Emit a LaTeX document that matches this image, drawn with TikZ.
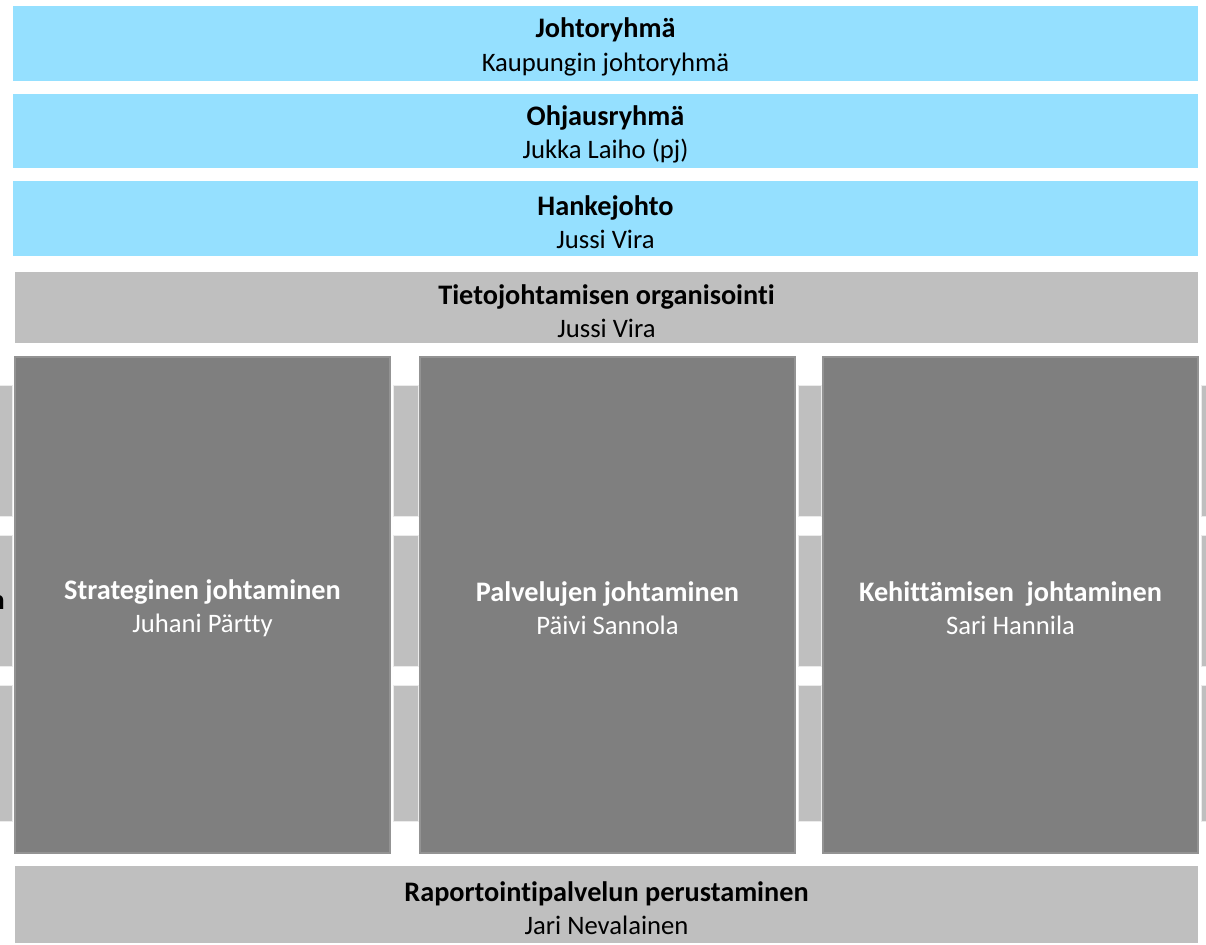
\documentclass[tikz,border=0pt]{standalone}
\usepackage{fontspec}
\setmainfont[Ligatures={NoCommon}]{Carlito}
\definecolor{lblue}{HTML}{95E0FF}
\definecolor{lgray}{HTML}{BFBFBF}
\definecolor{dgray}{HTML}{7F7F7F}
\newcommand{\ttl}[1]{{\fontsize{21.2}{25}\selectfont\bfseries #1}}
\tikzset{
  box/.style={inner sep=0pt, outer sep=0pt, anchor=north west},
  bluebox/.style={box, fill=lblue},
  graybox/.style={box, fill=lgray},
  colbox/.style={box, fill=dgray, draw=gray!85, line width=0.8pt},
  sidebox/.style={box, fill=lgray, draw=white!92!black, line width=0.6pt},
  lbl/.style={align=center, font=\fontsize{20}{25}\selectfont, text=black, yshift=-2.6pt},
  lblw/.style={lbl, text=white},
}
\begin{document}
\begin{tikzpicture}[x=0.75pt,y=-0.75pt]
\useasboundingbox (0,0) rectangle (1206,945);
\clip (0,0) rectangle (1206,945);
% top blue boxes
\node[bluebox, minimum width=1185*0.75pt, minimum height=75*0.75pt] (b1) at (13,6) {};
\node[bluebox, minimum width=1185*0.75pt, minimum height=74*0.75pt] (b2) at (13,94) {};
\node[bluebox, minimum width=1185*0.75pt, minimum height=75*0.75pt] (b3) at (13,181) {};
\node[lbl] (t1) at (b1.center) {\ttl{Johtoryhmä}\\Kaupungin johtoryhmä};
\node[lbl] (t2) at (b2.center) {\ttl{Ohjausryhmä}\\Jukka Laiho (pj)};
\node[lbl] (t3) at (b3.center) {\ttl{Hankejohto}\\Jussi Vira};
% gray header
\node[graybox, minimum width=1183*0.75pt, minimum height=71*0.75pt] (g1) at (15,272) {};
\node[lbl] (tg1) at (g1.center) {\ttl{Tietojohtamisen organisointi}\\Jussi Vira};
% side rectangles
\foreach \x/\w [count=\i] in {-20/32, 393/25, 798/23, 1201/30} {
  \node[sidebox, minimum width=\w*0.75pt, minimum height=131*0.75pt] (sa\i) at (\x,385) {};
  \node[sidebox, minimum width=\w*0.75pt, minimum height=131*0.75pt] (sb\i) at (\x,535) {};
  \node[sidebox, minimum width=\w*0.75pt, minimum height=136*0.75pt] (sc\i) at (\x,685) {};
}
\node[font=\fontsize{21.2}{25}\selectfont\bfseries, anchor=east, inner sep=0pt] (clip) at (5,603) {n};
% columns
\node[colbox, minimum width=375*0.75pt, minimum height=496*0.75pt] (c1) at (15,357) {};
\node[colbox, minimum width=375*0.75pt, minimum height=496*0.75pt] (c2) at (420,357) {};
\node[colbox, minimum width=375*0.75pt, minimum height=496*0.75pt] (c3) at (823,357) {};
\node[lblw] (tc1) at (c1.center) {\ttl{Strateginen johtaminen}\\Juhani Pärtty};
\node[lblw] (tc2) at (c2.center) {\ttl{Palvelujen johtaminen}\\Päivi Sannola};
\node[lblw] (tc3) at (c3.center) {\ttl{Kehittämisen\ \ johtaminen}\\Sari Hannila};
% bottom
\node[graybox, minimum width=1183*0.75pt, minimum height=77*0.75pt] (g2) at (15,866) {};
\node[lbl] (tg2) at (g2.center) {\ttl{Raportointipalvelun perustaminen}\\Jari Nevalainen};
\end{tikzpicture}
\end{document}
